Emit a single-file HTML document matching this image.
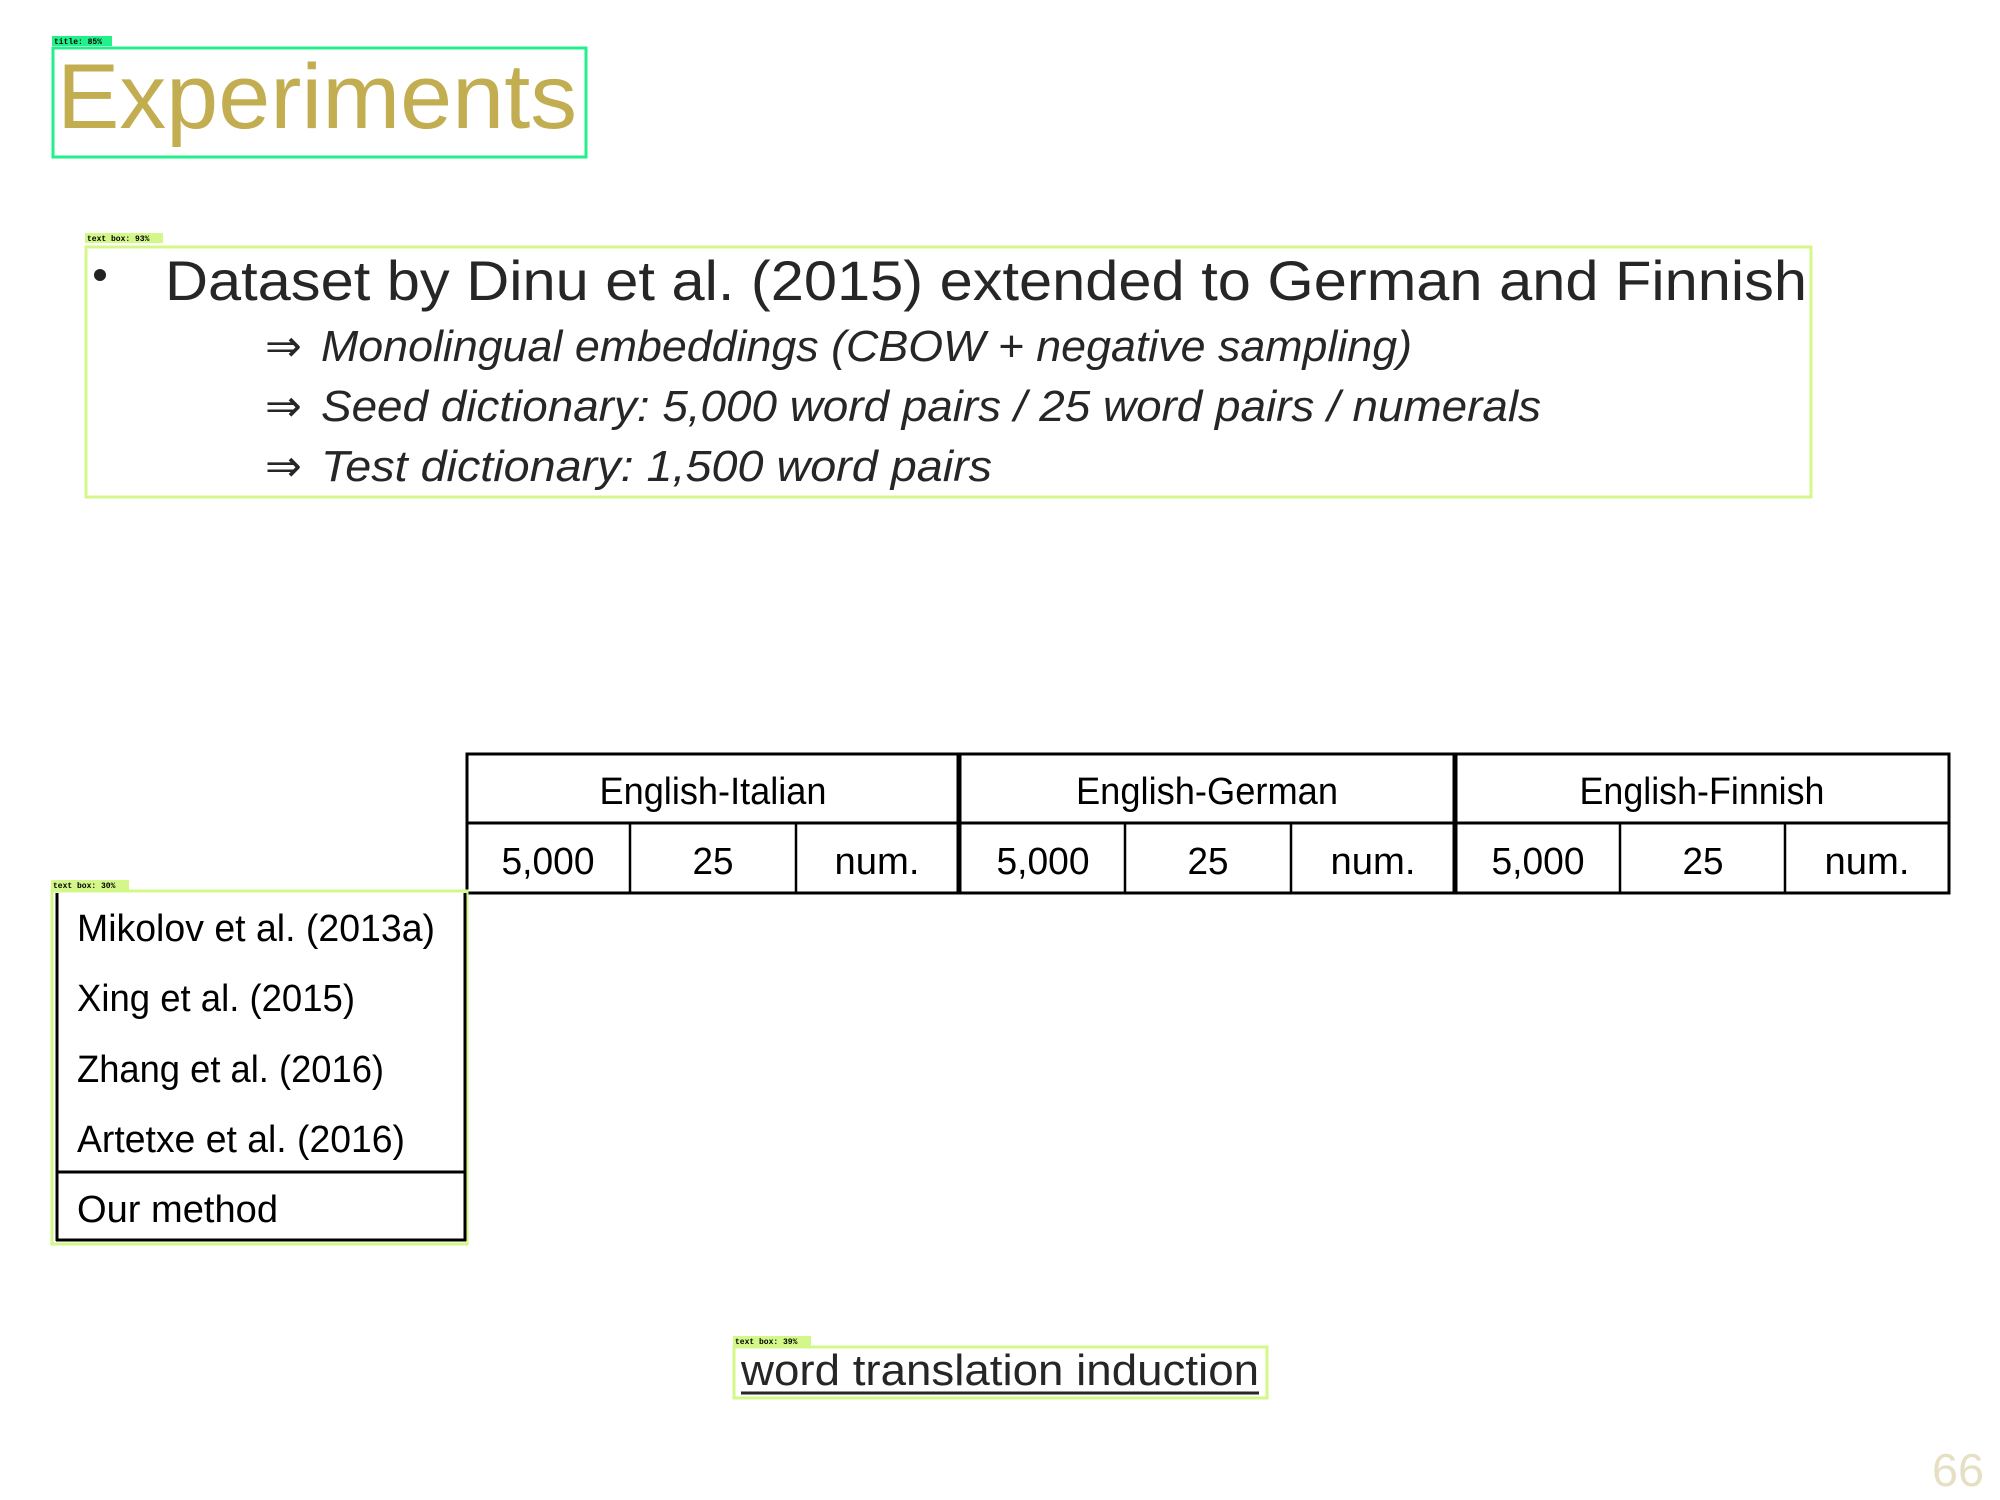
<!DOCTYPE html>
<html><head><meta charset="utf-8"><style>
html,body{margin:0;padding:0;background:#fff;}
svg{display:block;font-family:"Liberation Sans",sans-serif;}
</style></head><body>
<svg width="2000" height="1500" viewBox="0 0 2000 1500" xmlns="http://www.w3.org/2000/svg">
<rect x="0" y="0" width="2000" height="1500" fill="#fff"/>
<!-- title -->
<rect x="52" y="36" width="60" height="10" fill="#22f08a"/>
<text x="54" y="44" font-size="8" font-family="Liberation Mono,monospace" font-weight="bold">title: 85%</text>
<rect x="53" y="48" width="533" height="109" fill="none" stroke="#22f08a" stroke-width="3"/>
<text x="57" y="128" font-size="92" fill="#c2ad50" textLength="520" lengthAdjust="spacingAndGlyphs">Experiments</text>

<!-- bullet text box -->
<rect x="85" y="233" width="78" height="10" fill="#d4f78a"/>
<text x="87" y="241" font-size="8" font-family="Liberation Mono,monospace" font-weight="bold">text box: 93%</text>
<rect x="86" y="247" width="1725" height="250" fill="none" stroke="#d4f78a" stroke-width="3"/>
<circle cx="100" cy="275" r="6" fill="#222"/>
<text x="165" y="300" font-size="56" fill="#262626" textLength="1642" lengthAdjust="spacingAndGlyphs">Dataset by Dinu et al. (2015) extended to German and Finnish</text>
<g font-size="44" fill="#262626" font-style="italic">
<text x="265" y="361" font-style="normal">⇒</text>
<text x="321" y="361" textLength="1091" lengthAdjust="spacingAndGlyphs">Monolingual embeddings (CBOW + negative sampling)</text>
<text x="265" y="421" font-style="normal">⇒</text>
<text x="321" y="421" textLength="1220" lengthAdjust="spacingAndGlyphs">Seed dictionary:  5,000 word pairs / 25 word pairs / numerals</text>
<text x="265" y="481" font-style="normal">⇒</text>
<text x="321" y="481" textLength="671" lengthAdjust="spacingAndGlyphs">Test dictionary:   1,500 word pairs</text>
</g>

<!-- top table -->
<g stroke="#000" fill="none">
<rect x="467" y="754" width="1482" height="139" stroke-width="3"/>
<line x1="467" y1="823" x2="1949" y2="823" stroke-width="3"/>
<line x1="959" y1="754" x2="959" y2="893" stroke-width="5"/>
<line x1="1455" y1="754" x2="1455" y2="893" stroke-width="5"/>
<line x1="630" y1="823" x2="630" y2="893" stroke-width="2.5"/>
<line x1="796" y1="823" x2="796" y2="893" stroke-width="2.5"/>
<line x1="1125" y1="823" x2="1125" y2="893" stroke-width="2.5"/>
<line x1="1291" y1="823" x2="1291" y2="893" stroke-width="2.5"/>
<line x1="1620" y1="823" x2="1620" y2="893" stroke-width="2.5"/>
<line x1="1785" y1="823" x2="1785" y2="893" stroke-width="2.5"/>
</g>
<g font-size="38" fill="#000" text-anchor="middle">
<text x="713" y="804" textLength="227" lengthAdjust="spacingAndGlyphs">English-Italian</text>
<text x="1207" y="804" textLength="262" lengthAdjust="spacingAndGlyphs">English-German</text>
<text x="1702" y="804" textLength="245" lengthAdjust="spacingAndGlyphs">English-Finnish</text>
<text x="548" y="874" textLength="93" lengthAdjust="spacingAndGlyphs">5,000</text>
<text x="713" y="874" textLength="41" lengthAdjust="spacingAndGlyphs">25</text>
<text x="877" y="874" textLength="85" lengthAdjust="spacingAndGlyphs">num.</text>
<text x="1043" y="874" textLength="93" lengthAdjust="spacingAndGlyphs">5,000</text>
<text x="1208" y="874" textLength="41" lengthAdjust="spacingAndGlyphs">25</text>
<text x="1373" y="874" textLength="85" lengthAdjust="spacingAndGlyphs">num.</text>
<text x="1538" y="874" textLength="93" lengthAdjust="spacingAndGlyphs">5,000</text>
<text x="1703" y="874" textLength="41" lengthAdjust="spacingAndGlyphs">25</text>
<text x="1867" y="874" textLength="85" lengthAdjust="spacingAndGlyphs">num.</text>
</g>

<!-- left methods table -->
<rect x="51" y="880" width="78" height="10" fill="#d4f78a"/>
<text x="53" y="888" font-size="8" font-family="Liberation Mono,monospace" font-weight="bold">text box: 30%</text>
<rect x="52" y="891" width="415" height="353" fill="none" stroke="#d4f78a" stroke-width="3"/>
<g stroke="#000" fill="none">
<line x1="57" y1="893" x2="57" y2="1241" stroke-width="3"/>
<line x1="465" y1="893" x2="465" y2="1241" stroke-width="3"/>
<line x1="56" y1="1172" x2="466" y2="1172" stroke-width="3"/>
<line x1="56" y1="1240" x2="466" y2="1240" stroke-width="3"/>
</g>
<g font-size="38" fill="#000">
<text x="77" y="941" textLength="358" lengthAdjust="spacingAndGlyphs">Mikolov et al. (2013a)</text>
<text x="77" y="1011" textLength="278" lengthAdjust="spacingAndGlyphs">Xing et al. (2015)</text>
<text x="77" y="1082" textLength="307" lengthAdjust="spacingAndGlyphs">Zhang et al. (2016)</text>
<text x="77" y="1152" textLength="328" lengthAdjust="spacingAndGlyphs">Artetxe et al. (2016)</text>
<text x="77" y="1222" textLength="201" lengthAdjust="spacingAndGlyphs">Our method</text>
</g>

<!-- bottom caption -->
<rect x="733" y="1336" width="78" height="10" fill="#d4f78a"/>
<text x="735" y="1344" font-size="8" font-family="Liberation Mono,monospace" font-weight="bold">text box: 39%</text>
<rect x="734" y="1347" width="533" height="51" fill="none" stroke="#d4f78a" stroke-width="3"/>
<text x="741" y="1385" font-size="44" fill="#262626" textLength="518" lengthAdjust="spacingAndGlyphs">word translation induction</text>
<line x1="741" y1="1393" x2="1259" y2="1393" stroke="#262626" stroke-width="3"/>

<text x="1932" y="1486" font-size="46" fill="#e6dfc4" textLength="52" lengthAdjust="spacingAndGlyphs">66</text>
</svg>
</body></html>
